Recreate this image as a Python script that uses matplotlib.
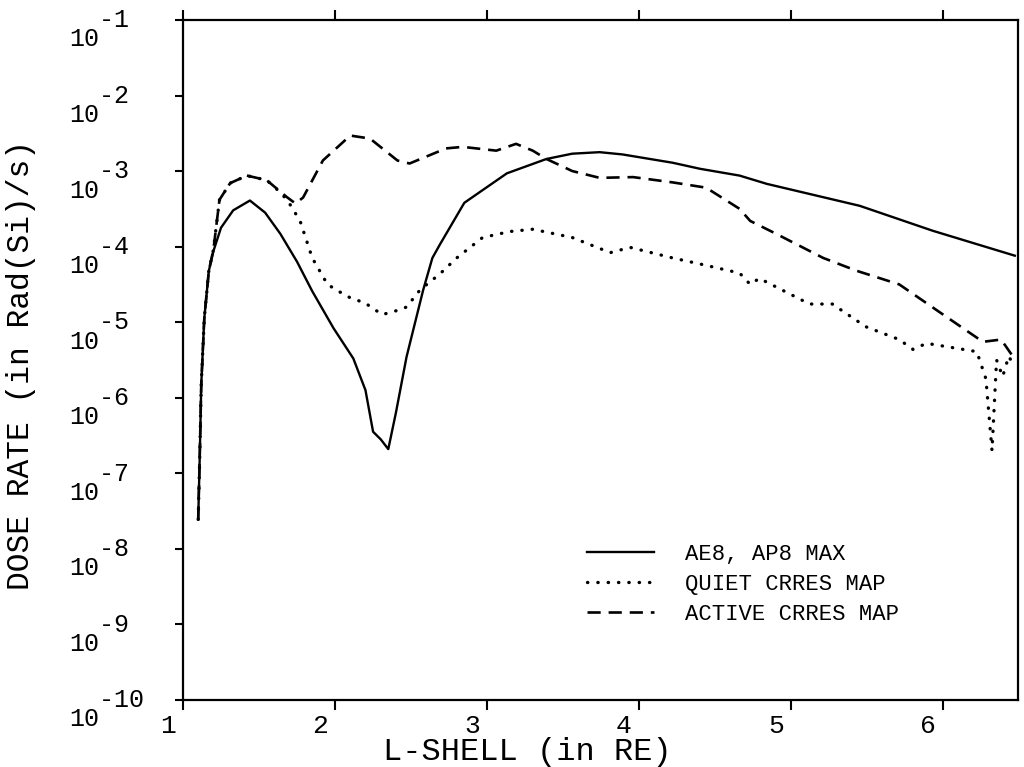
import numpy as np
import matplotlib.pyplot as plt
import matplotlib.transforms as mtransforms

plt.rcParams["font.family"] = ["Liberation Mono", "DejaVu Sans Mono"]

# AE8, AP8 MAX (solid)
L_max = [1.10, 1.11, 1.12, 1.14, 1.17, 1.20, 1.25, 1.33, 1.44, 1.54, 1.64, 1.75, 1.85,
         1.99, 2.12, 2.20, 2.25, 2.30, 2.35, 2.40, 2.47, 2.58, 2.64, 2.69, 2.85, 3.13,
         3.39, 3.56, 3.74, 3.89, 4.22, 4.40, 4.66, 4.84, 5.45, 5.93, 6.47]
log_max = [-7.61, -6.80, -5.83, -4.95, -4.32, -4.06, -3.75, -3.52, -3.39, -3.55, -3.83,
           -4.20, -4.59, -5.08, -5.48, -5.90, -6.45, -6.55, -6.68, -6.20, -5.46, -4.57,
           -4.15, -3.97, -3.42, -3.03, -2.84, -2.77, -2.75, -2.78, -2.89, -2.97, -3.06,
           -3.17, -3.46, -3.79, -4.12]

# QUIET CRRES MAP (dotted)
L_quiet = [1.10, 1.11, 1.12, 1.14, 1.17, 1.20, 1.24, 1.31, 1.42, 1.55, 1.65, 1.70, 1.77,
           1.85, 1.95, 2.08, 2.20, 2.31, 2.40, 2.47, 2.56, 2.69, 2.80, 2.97, 3.15, 3.30,
           3.56, 3.81, 3.94, 4.22, 4.40, 4.66, 4.73, 4.79, 5.12, 5.27, 5.49, 5.71, 5.80,
           5.89, 6.22, 6.28, 6.32, 6.35, 6.39, 6.43, 6.47]
log_quiet = [-7.61, -6.80, -5.83, -4.95, -4.32, -4.04, -3.38, -3.16, -3.06, -3.12, -3.30,
             -3.43, -3.66, -4.15, -4.50, -4.66, -4.75, -4.90, -4.85, -4.80, -4.57, -4.36,
             -4.15, -3.88, -3.80, -3.77, -3.88, -4.08, -4.01, -4.15, -4.23, -4.35, -4.50,
             -4.42, -4.76, -4.76, -5.06, -5.23, -5.36, -5.28, -5.39, -5.75, -6.70, -5.50,
             -5.72, -5.45, -5.60]

# ACTIVE CRRES MAP (dashed)
L_active = [1.10, 1.11, 1.12, 1.14, 1.17, 1.20, 1.24, 1.31, 1.42, 1.55, 1.68, 1.74, 1.79,
            1.92, 2.10, 2.23, 2.41, 2.49, 2.73, 2.84, 3.06, 3.19, 3.30, 3.39, 3.56, 3.74,
            3.96, 4.22, 4.44, 4.66, 4.73, 4.90, 5.21, 5.43, 5.71, 5.97, 6.26, 6.38, 6.47]
log_active = [-7.61, -6.80, -5.83, -4.95, -4.32, -4.04, -3.38, -3.16, -3.06, -3.12, -3.34,
              -3.43, -3.35, -2.86, -2.53, -2.57, -2.86, -2.90, -2.70, -2.68, -2.73, -2.64,
              -2.73, -2.84, -3.00, -3.09, -3.08, -3.15, -3.22, -3.50, -3.66, -3.83, -4.15,
              -4.32, -4.50, -4.86, -5.26, -5.23, -5.49]

labels = ["AE8, AP8 MAX", "QUIET CRRES MAP", "ACTIVE CRRES MAP"]
x_ticks = [1, 2, 3, 4, 5, 6]
y_exps = list(range(-10, 0))

fig = plt.figure(figsize=(10.24, 7.67), dpi=100)
ax = fig.add_axes([0.1787, 0.0874, 0.8153, 0.8866])

ax.plot(L_max, 10.0 ** np.array(log_max), color="black", lw=1.7,
        linestyle="-", label=labels[0])
ax.plot(L_quiet, 10.0 ** np.array(log_quiet), color="black", lw=2.4,
        linestyle=(0, (0.1, 3.0)), dash_capstyle="round", label=labels[1])
ax.plot(L_active, 10.0 ** np.array(log_active), color="black", lw=1.9,
        linestyle=(0, (5, 3)), label=labels[2])

ax.set_yscale("log")
ax.set_xlim(1, 6.49)
ax.set_ylim(1e-10, 1e-1)

ax.set_xticks(x_ticks)
ax.set_xticklabels([str(t) for t in x_ticks], fontsize=19)
ax.set_yticks([10.0 ** e for e in y_exps])
ax.set_yticklabels(["  %d\n10" % e for e in y_exps], fontsize=18)
ax.minorticks_off()
ax.tick_params(axis="y", direction="out", length=6, width=1.5, pad=76)
ax.tick_params(axis="x", direction="out", length=7, width=1.5, pad=3, top=True)

# plotter style: exponent raised beside "10", x labels sit left of tick
y_shift = mtransforms.ScaledTranslation(0, -7 / 72, fig.dpi_scale_trans)
for lab in ax.get_yticklabels():
    lab.set_horizontalalignment("left")
    lab.set_multialignment("left")
    lab.set_linespacing(0.75)
    lab.set_transform(lab.get_transform() + y_shift)
x_shift = mtransforms.ScaledTranslation(-11 / 72, 0, fig.dpi_scale_trans)
for lab in ax.get_xticklabels():
    lab.set_transform(lab.get_transform() + x_shift)

for s in ax.spines.values():
    s.set_linewidth(1.6)

ax.set_xlabel("L-SHELL (in RE)", fontsize=23)
ax.xaxis.set_label_coords(0.413, -0.055)
ax.set_ylabel("DOSE RATE (in Rad(Si)/s)", fontsize=22.5)
ax.yaxis.set_label_coords(-0.176, 0.493)

ax.legend(loc="upper left", bbox_to_anchor=(0.484, 0.229), frameon=False,
          fontsize=16, handlelength=3.0, handletextpad=1.4, labelspacing=0.4,
          borderaxespad=0, borderpad=0)

fig.savefig("out.png", dpi=100)
